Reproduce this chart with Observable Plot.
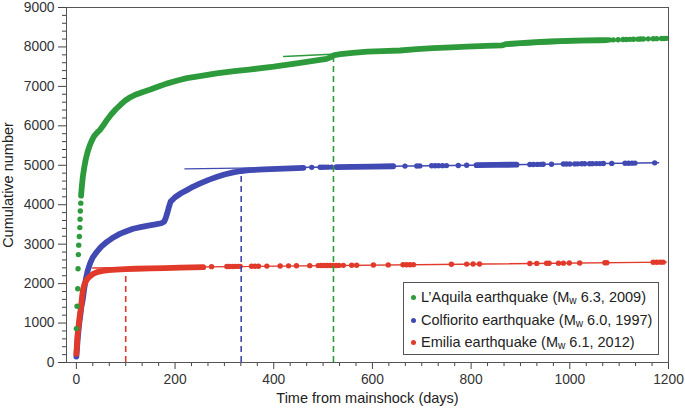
<!DOCTYPE html>
<html>
<head>
<meta charset="utf-8">
<script src="https://cdn.jsdelivr.net/npm/d3@7"></script>
<script src="https://cdn.jsdelivr.net/npm/@observablehq/plot@0.6"></script>
<style>
  body { margin: 0; background: #fff; }
  #wrap { position: relative; width: 685px; height: 410px; font-family: "Liberation Sans", Arial, Helvetica, sans-serif; }
  #wrap svg, #wrap svg text { font-family: "Liberation Sans", Arial, Helvetica, sans-serif !important; }
  #wrap svg g[aria-label*="tick label"] text, #wrap svg g[aria-label*="tick label"] { font-size: 13.8px !important; }
  #legend { position: absolute; left: 403px; top: 282px; width: 254px; height: 71px; border: 1px solid #555; background: #fff; font-size: 14.5px; color: #222; }
  .row { position: absolute; left: 0; height: 16px; line-height: 16px; white-space: nowrap; }
  .dot { display: inline-block; width: 5px; height: 5px; border-radius: 50%; margin: 0 5px 0 7px; vertical-align: 2px; }
  .sub { font-size: 70%; position: relative; top: 2px; }
</style>
</head>
<body>
<div id="wrap"></div>
<script>
// ---------------- data ----------------
const seriesNames = ["L’Aquila earthquake", "Colfiorito earthquake", "Emilia earthquake"];
const seriesMw = ["6.3", "6.0", "6.1"];
const seriesYears = ["2009", "1997", "2012"];

const xMajorTicks = [0, 200, 400, 600, 800, 1000, 1200];
const xMinorTicks = [33.3, 66.7, 100, 133.3, 166.7, 233.3, 266.7, 300, 333.3, 366.7, 433.3, 466.7, 500, 533.3, 566.7,
  633.3, 666.7, 700, 733.3, 766.7, 833.3, 866.7, 900, 933.3, 966.7, 1033.3, 1066.7, 1100, 1133.3, 1166.7];
const yMajorTicks = [0, 1000, 2000, 3000, 4000, 5000, 6000, 7000, 8000, 9000];
const yMinorTicks = [200, 400, 600, 800, 1200, 1400, 1600, 1800, 2200, 2400, 2600, 2800, 3200, 3400, 3600, 3800,
  4200, 4400, 4600, 4800, 5200, 5400, 5600, 5800, 6200, 6400, 6600, 6800, 7200, 7400, 7600, 7800, 8200, 8400, 8600, 8800];

// L'Aquila (green)
const aquilaEarlyDots = [[0, 860], [1.4, 1425], [2.8, 1870], [3.4, 2375], [4, 2735], [4.8, 2975], [6, 3195], [7, 3420], [7.5, 3630], [8, 3840], [9, 4040]];
const aquilaBand = [[9.5, 4230], [11, 4450], [13, 4700], [16, 4950], [19, 5150], [23, 5350], [27, 5500], [31, 5620], [36, 5740],
  [42, 5830], [48, 5900], [54, 6000], [62, 6150], [70, 6280], [80, 6420], [90, 6540], [100, 6650], [110, 6730], [121, 6795],
  [135, 6860], [150, 6920], [165, 6990], [183, 7070], [205, 7150], [224, 7210], [250, 7260], [284, 7330], [320, 7385],
  [350, 7425], [400, 7500], [450, 7590], [490, 7665], [507, 7700], [513, 7725], [518, 7760], [523, 7795], [535, 7815],
  [560, 7850], [590, 7880], [620, 7895], [656, 7910], [690, 7945], [723, 7968], [760, 7990], [791, 8010], [830, 8025],
  [862, 8038], [870, 8070], [900, 8095], [930, 8120], [960, 8140], [1010, 8158], [1061, 8170], [1075, 8175]];
const aquilaLateDots = [[1080, 8178], [1088, 8180], [1098, 8183], [1108, 8188], [1115, 8190], [1122, 8192], [1129, 8195],
  [1138, 8198], [1143, 8200], [1149, 8202], [1159, 8205], [1169, 8208], [1176, 8210], [1186, 8213], [1191, 8215], [1196, 8218]];
const aquilaFit = [[420, 7757], [1196, 8220]];

// Colfiorito (blue)
const colfBand = [[0, 150], [1.5, 400], [3, 640], [5, 900], [7.5, 1150], [10, 1400], [13, 1600], [16, 1880], [19, 2100],
  [23, 2330], [28, 2520], [33, 2660], [41, 2800], [50, 2930], [62, 3060], [75, 3170], [88, 3260], [100, 3320], [115, 3390],
  [130, 3430], [143, 3465], [160, 3500], [172, 3530], [178, 3570], [181, 3660], [184, 3780], [187, 3920], [191, 4080],
  [200, 4190], [212, 4290], [224, 4370], [237, 4460], [251, 4540], [268, 4630], [284, 4700], [300, 4765], [318, 4820],
  [334, 4855], [350, 4875], [380, 4895], [420, 4915], [460, 4935]];
const colfBand2 = [[527, 4955], [560, 4962], [600, 4968], [642, 4975]];
const colfBand3 = [[811, 5002], [850, 5009], [892, 5016]];
const colfDots = [[477, 4948], [494, 4950], [499, 4951], [504, 4952], [510, 4953], [517, 4954], [666, 4979], [690, 4983],
  [696, 4984], [720, 4988], [727, 4989], [734, 4990], [742, 4991], [750, 4992], [774, 4996], [791, 4999], [919, 5020],
  [926, 5021], [934, 5022], [941, 5024], [946, 5025], [963, 5027], [987, 5031], [993, 5032], [1000, 5033], [1010, 5035],
  [1016, 5036], [1024, 5037], [1030, 5038], [1040, 5040], [1046, 5041], [1054, 5042], [1061, 5043], [1068, 5044],
  [1085, 5047], [1112, 5052], [1119, 5053], [1126, 5054], [1132, 5055], [1172, 5062]];
const colfFit = [[220, 4910], [1180, 5063]];

// Emilia (red)
const emiliaBand = [[0, 220], [1, 420], [2, 640], [3.5, 820], [5, 980], [7, 1200], [9.5, 1400], [11, 1600], [13, 1820],
  [16, 1970], [20, 2080], [26, 2170], [33, 2240], [42, 2290], [53, 2320], [65, 2340], [80, 2355], [100, 2368], [120, 2377],
  [150, 2387], [180, 2395], [210, 2403], [235, 2410], [257, 2416]];
const emiliaDots = [[274, 2430], [305, 2434], [310, 2435], [316, 2435], [322, 2436], [328, 2437], [332, 2437], [355, 2440],
  [362, 2441], [369, 2442], [386, 2444], [413, 2447], [430, 2450], [446, 2452], [473, 2455], [490, 2457], [496, 2458],
  [502, 2458], [508, 2459], [514, 2460], [520, 2461], [526, 2461], [532, 2462], [541, 2463], [558, 2465], [568, 2467],
  [602, 2471], [632, 2475], [662, 2478], [669, 2479], [676, 2480], [683, 2481], [760, 2491], [791, 2495], [804, 2496],
  [817, 2498], [919, 2511], [933, 2512], [953, 2515], [958, 2516], [977, 2518], [987, 2519], [999, 2521], [1020, 2523],
  [1071, 2530], [1075, 2530], [1169, 2542], [1176, 2543], [1183, 2544], [1189, 2544]];
const emiliaFit = [[33, 2395], [1196, 2545]];

// change points (dashed verticals)
const changeDays = [521, 334, 100];
const changeCounts = [7790, 4860, 2370];

// ---------------- styling ----------------
const colors = ["#2d9a3b", "#4149b2", "#e1392a"];
const font = '"Liberation Sans", Arial, Helvetica, sans-serif';
const X = d => d[0], Y = d => d[1];
const band = (data, c) => Plot.line(data, {x: X, y: Y, stroke: c, strokeWidth: 5.8, strokeLinecap: "round", strokeLinejoin: "round"});
const dots = (data, c) => Plot.dot(data, {x: X, y: Y, r: 2.7, fill: c});
const fit = (data, c) => Plot.line(data, {x: X, y: Y, stroke: c, strokeWidth: 1.4});
const changes = changeDays.map((d, i) => ({d, c: changeCounts[i], color: colors[i]}));

const chart = Plot.plot({
  width: 685,
  height: 410,
  marginLeft: 66,
  marginRight: 17,
  marginTop: 7,
  marginBottom: 48,
  style: {fontFamily: font, fontSize: "13.8px", color: "#333", background: "#fff", overflow: "visible"},
  x: {domain: [-20, 1200]},
  y: {domain: [0, 9000]},
  marks: [
    // Colfiorito
    fit(colfFit, colors[1]),
    band(colfBand, colors[1]), band(colfBand2, colors[1]), band(colfBand3, colors[1]),
    dots(colfDots, colors[1]),
    // Emilia
    fit(emiliaFit, colors[2]),
    band(emiliaBand, colors[2]),
    dots(emiliaDots, colors[2]),
    // L'Aquila
    fit(aquilaFit, colors[0]),
    dots(aquilaEarlyDots, colors[0]),
    band(aquilaBand, colors[0]),
    dots(aquilaLateDots, colors[0]),
    // dashed change points
    Plot.ruleX(changes, {x: "d", y1: 0, y2: "c", stroke: "color", strokeWidth: 1.6, strokeDasharray: "6,4"}),
    // axes
    Plot.axisX({ticks: xMinorTicks, tickSize: 4, tickFormat: () => "", label: null, stroke: "#444"}),
    Plot.axisX({ticks: xMajorTicks, tickSize: 7, tickPadding: 5, tickFormat: d => String(d), label: null, stroke: "#444", fill: "#333", fontSize: 13.8}),
    Plot.axisY({ticks: yMinorTicks, tickSize: 4, tickFormat: () => "", label: null, stroke: "#444"}),
    Plot.axisY({ticks: yMajorTicks, tickSize: 8, tickPadding: 4, tickFormat: d => String(d), label: null, stroke: "#444", fill: "#333", fontSize: 13.8}),
    Plot.frame({stroke: "#555", strokeWidth: 1}),
    Plot.text(["Time from mainshock (days)"], {frameAnchor: "bottom", lineAnchor: "middle", dy: 36, fontSize: 14.5, fill: "#222"}),
    Plot.text(["Cumulative number"], {frameAnchor: "left", textAnchor: "middle", lineAnchor: "middle", rotate: -90, dx: -58, fontSize: 14.5, fill: "#222"})
  ]
});

// make tick labels the size seen in the reference
chart.querySelectorAll("text").forEach(t => {
  const g = t.closest("g[aria-label]");
  if (g && /tick label/.test(g.getAttribute("aria-label"))) {
    t.setAttribute("font-size", "13.8");
    t.style.fontSize = "13.8px";
  }
});

const wrap = document.getElementById("wrap");
wrap.appendChild(chart);

// legend
const legend = document.createElement("div");
legend.id = "legend";
const rowTops = [6, 29, 51];
seriesNames.forEach((name, i) => {
  const row = document.createElement("div");
  row.className = "row";
  row.style.top = rowTops[i] + "px";
  row.innerHTML = `<span class="dot" style="background:${colors[i]}"></span>${name} (M<span class="sub">w</span> ${seriesMw[i]}, ${seriesYears[i]})`;
  legend.appendChild(row);
});
wrap.appendChild(legend);
</script>
</body>
</html>
